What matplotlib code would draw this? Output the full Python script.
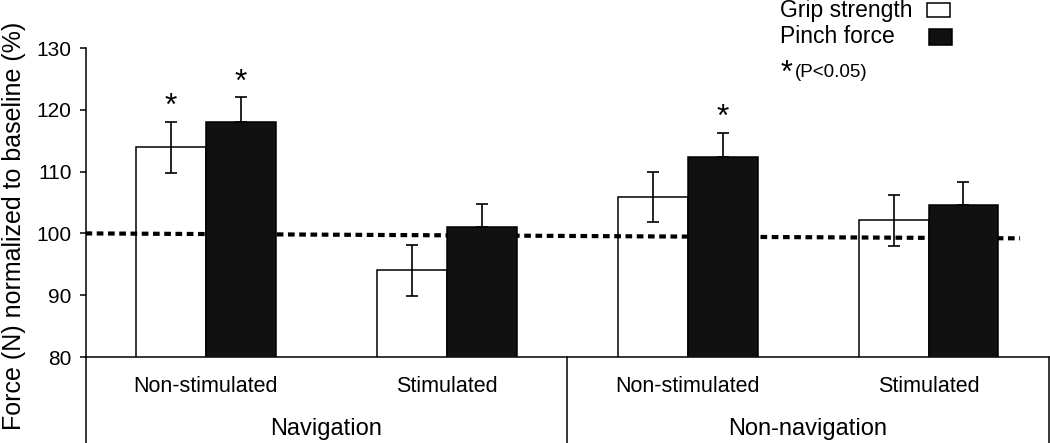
"""Grip strength / pinch force bar chart, normalized to baseline."""

import matplotlib

matplotlib.use("Agg")
import matplotlib.patches as mpatches
import matplotlib.pyplot as plt
import numpy as np

plt.rcParams["font.family"] = ["Liberation Sans", "DejaVu Sans"]

# data
conditions = ["Non-stimulated", "Stimulated", "Non-stimulated", "Stimulated"]
groups = ["Navigation", "Non-navigation"]
grip_mean = [113.9, 94.0, 105.9, 102.1]
grip_err = [4.2, 4.1, 4.1, 4.1]
pinch_mean = [118.0, 101.1, 112.3, 104.6]
pinch_err = [4.0, 3.7, 4.0, 3.7]
grip_sig = [True, False, False, False]
pinch_sig = [True, False, True, False]
baseline_x = [-0.5, 3.38]
baseline_y = [100.0, 99.2]
yticks = [80, 90, 100, 110, 120, 130]
series_labels = ["Grip strength", "Pinch force"]

x = np.arange(len(conditions))
w = 0.29

fig = plt.figure(figsize=(10.5, 4.43), dpi=100)
ax = fig.add_axes([85.5 / 1050, 1 - 357 / 443, (1049 - 85.5) / 1050, (357 - 48) / 443])

ax.bar(x - w / 2, grip_mean, w, color="white", edgecolor="black", lw=1.1, zorder=1)
ax.plot(baseline_x, baseline_y, color="black", lw=3.0, ls=(0, (1.6, 1.1)),
        dash_capstyle="butt", zorder=2)
ax.bar(x + w / 2, pinch_mean, w, color="#111111", edgecolor="black", lw=1.1, zorder=3)
ax.errorbar(x - w / 2, grip_mean, yerr=grip_err, fmt="none", ecolor="black",
            elinewidth=1.2, capsize=4, capthick=1.2, zorder=4)
# lower half of the pinch whisker sits inside the black bar, so only the upper part shows
ax.errorbar(x + w / 2, pinch_mean, yerr=[np.zeros(len(pinch_err)), pinch_err], fmt="none",
            ecolor="black", elinewidth=1.2, capsize=4, capthick=1.2, zorder=2.5)

# significance stars
for xs, m, e, sig in [(x - w / 2, grip_mean, grip_err, grip_sig),
                      (x + w / 2, pinch_mean, pinch_err, pinch_sig)]:
    for xi, mi, ei, s in zip(xs, m, e, sig):
        if s:
            ax.annotate("*", (xi, mi + ei), xytext=(0, 5), textcoords="offset points",
                        ha="center", va="baseline", fontsize=23)

ax.set_xlim(-0.5, 3.5)
ax.set_ylim(80, 130)
ax.set_yticks(yticks)
ax.tick_params(axis="y", direction="out", length=4, width=1.1, labelsize=15, pad=6)
ax.set_xticks([])
for s in ("top", "right"):
    ax.spines[s].set_visible(False)
for s in ("left", "bottom"):
    ax.spines[s].set_linewidth(1.1)

# category / group box below the axis
trans = ax.get_xaxis_transform()
for xv in (-0.5, 1.5, 3.5):
    ax.plot([xv, xv], [0, -0.28], color="black", lw=1.1, transform=trans, clip_on=False)
for xi, lab in zip(x, conditions):
    ax.text(xi, -0.096, lab, transform=trans, ha="center", va="center", fontsize=15.5)
for gi, lab in enumerate(groups):
    ax.text(0.5 + 2 * gi, -0.232, lab, transform=trans, ha="center", va="center", fontsize=17)

fig.text(14 / 1050, 1 - 226 / 443, "Force (N) normalized to baseline (%)", rotation=90,
         ha="center", va="center", fontsize=18)

# legend drawn by hand
fig.text(780 / 1050, 1 - 17 / 443, series_labels[0], fontsize=16.5, va="baseline")
fig.text(780 / 1050, 1 - 43 / 443, series_labels[1], fontsize=16.5, va="baseline")
fig.patches.append(mpatches.Rectangle((927 / 1050, 1 - 17 / 443), 23 / 1050, 14 / 443,
                                      transform=fig.transFigure, facecolor="white",
                                      edgecolor="black", lw=1.1))
fig.patches.append(mpatches.Rectangle((929 / 1050, 1 - 45 / 443), 23 / 1050, 16 / 443,
                                      transform=fig.transFigure, facecolor="#111111",
                                      edgecolor="black", lw=1.1))
fig.text(781 / 1050, 1 - 82 / 443, "*", fontsize=22, va="baseline")
fig.text(795 / 1050, 1 - 77 / 443, "(P<0.05)", fontsize=13.5, va="baseline")

fig.savefig("out.png", dpi=100)
